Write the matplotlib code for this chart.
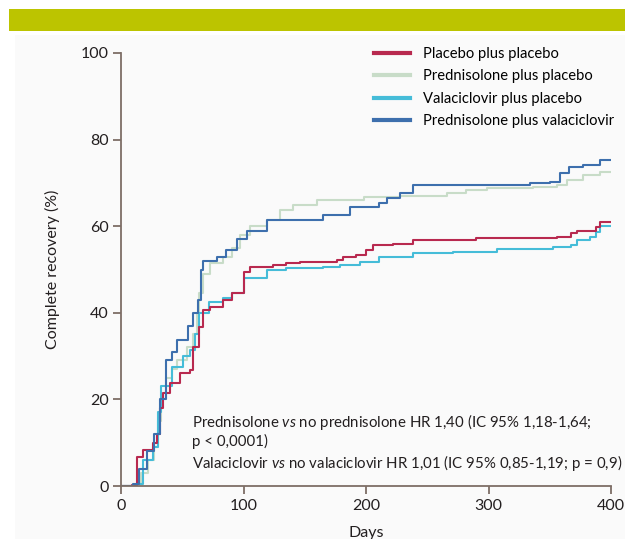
import matplotlib
matplotlib.use("Agg")
import matplotlib.pyplot as plt
from matplotlib.patches import Rectangle

plt.rcParams['font.family'] = ['Lato', 'DejaVu Sans']
plt.rcParams['mathtext.fontset'] = 'custom'
plt.rcParams['mathtext.it'] = 'Lato:italic'
plt.rcParams['mathtext.rm'] = 'Lato'

# ---- data ----
labels = ["Placebo plus placebo", "Prednisolone plus placebo",
          "Valaciclovir plus placebo", "Prednisolone plus valaciclovir"]
colors = ["#b8294f", "#c8dcc8", "#45bcd8", "#3d6fad"]

days_pp = [0, 9, 13, 18, 26, 29, 32, 34, 40, 48, 56, 59, 64, 67, 73, 83, 91, 100, 105,
           124, 135, 146, 176, 181, 192, 200, 206, 222, 238, 290, 356, 367, 372, 388, 391, 402]
rec_pp = [0, 0.3, 6.7, 8.3, 10, 12, 18, 21.5, 23.8, 26, 26.8, 32, 36.7, 40.6, 41.3, 43, 44.6,
          49.5, 50.6, 51, 51.5, 51.8, 52.2, 53, 53.4, 54.5, 55.6, 56, 56.8, 57.2, 57.5,
          58.4, 59, 59.8, 61, 61]

days_prp = [0, 12, 16, 22, 27, 30, 33, 37, 42, 46, 54, 59, 62, 64, 67, 73, 83, 91, 97, 105,
            119, 130, 140, 160, 198, 228, 266, 282, 299, 336, 356, 364, 377, 391, 402]
rec_prp = [0, 0.5, 3, 6, 9, 15, 20, 25, 27, 29, 32, 35, 40, 44.5, 49, 51.5, 53, 55, 58, 60,
           61.4, 63.7, 65, 66, 66.7, 67, 67.6, 68.4, 68.8, 69.1, 69.5, 70.7, 71.8, 72.5, 72.7]

days_vp = [0, 13, 18, 26, 30, 33, 42, 51, 56, 60, 64, 72, 83, 91, 100, 119, 135, 165, 179,
           195, 211, 238, 271, 307, 353, 367, 372, 383, 388, 391, 402]
rec_vp = [0, 0.5, 6, 9, 17, 23, 27.5, 30, 31.4, 35, 40, 42.5, 43.5, 44.6, 48, 50, 50.3,
          50.6, 51, 51.8, 53, 53.8, 54, 54.7, 55.2, 55.6, 56.8, 57.5, 58.6, 60, 60]

days_pv = [0, 10, 15, 21, 27, 32, 37, 42, 46, 55, 59, 63, 65, 67, 78, 86, 95, 103, 119,
           146, 165, 187, 211, 217, 228, 238, 334, 350, 358, 366, 377, 391, 402]
rec_pv = [0, 0.5, 4, 8, 12, 20, 29, 31, 33.7, 37, 40, 43, 50, 52, 53, 54.5, 57, 59, 61.4,
          61.4, 62.5, 64.4, 65.3, 66.5, 67.6, 69.5, 70, 70.2, 72.3, 73.7, 74.1, 75.3, 75.5]

series = [(days_pp, rec_pp), (days_prp, rec_prp), (days_vp, rec_vp), (days_pv, rec_pv)]

xticks = [0, 100, 200, 300, 400]
yticks = [0, 20, 40, 60, 80, 100]

note_lines = ["Prednisolone $\\it{vs}$ no prednisolone HR 1,40 (IC 95% 1,18-1,64;",
              "p < 0,0001)",
              "Valaciclovir $\\it{vs}$ no valaciclovir HR 1,01 (IC 95% 0,85-1,19; p = 0,9)"]

# ---- figure ----
W, H = 625, 539
fig = plt.figure(figsize=(W / 100, H / 100), dpi=100)
fig.patch.set_facecolor("white")
fig.patches.append(Rectangle((15 / W, 0), 1, 1 - 35 / H, transform=fig.transFigure,
                             facecolor="#fafafa", edgecolor="none", zorder=-10))
fig.patches.append(Rectangle((9 / W, 1 - 31 / H), 1, 22 / H, transform=fig.transFigure,
                             facecolor="#bcc400", edgecolor="none", zorder=-10))

ax = fig.add_axes([121 / W, 53 / H, 490 / W, 433 / H])
ax.set_facecolor("none")
ax.set_zorder(5)

draw_order = [1, 2, 0, 3]
lines = {}
for i in draw_order:
    d, r = series[i]
    ln, = ax.step(d, r, where="post", color=colors[i], lw=1.5, label=labels[i])
    lines[i] = ln

ax.set_xlim(0, 400)
ax.set_ylim(0, 100)
ax.set_xticks(xticks)
ax.set_yticks(yticks)
ax.tick_params(direction="out", length=6, width=1.3, color="#7d6e66",
               labelsize=11.5, labelcolor="#231f20", pad=3)
for s in ["top", "right"]:
    ax.spines[s].set_visible(False)
for s in ["left", "bottom"]:
    ax.spines[s].set_color("#7d6e66")
    ax.spines[s].set_linewidth(1.3)

ax.set_xlabel("Days", fontsize=11.5, color="#231f20", labelpad=10)
ax.set_ylabel("Complete recovery (%)", fontsize=11.5, color="#231f20", labelpad=15)

leg = ax.legend([lines[i] for i in range(4)], labels, loc="upper left",
                bbox_to_anchor=(0.49, 1.045), frameon=False, fontsize=10.6,
                handlelength=2.4, handletextpad=0.9, labelspacing=0.58)
for h in leg.get_lines():
    h.set_linewidth(3)

ys = [0.136, 0.092, 0.042]
for t, y in zip(note_lines, ys):
    ax.text(0.145, y, t, transform=ax.transAxes, fontsize=10.8, color="#231f20",
            va="baseline")

fig.savefig("out.png", dpi=100, facecolor=fig.get_facecolor())
